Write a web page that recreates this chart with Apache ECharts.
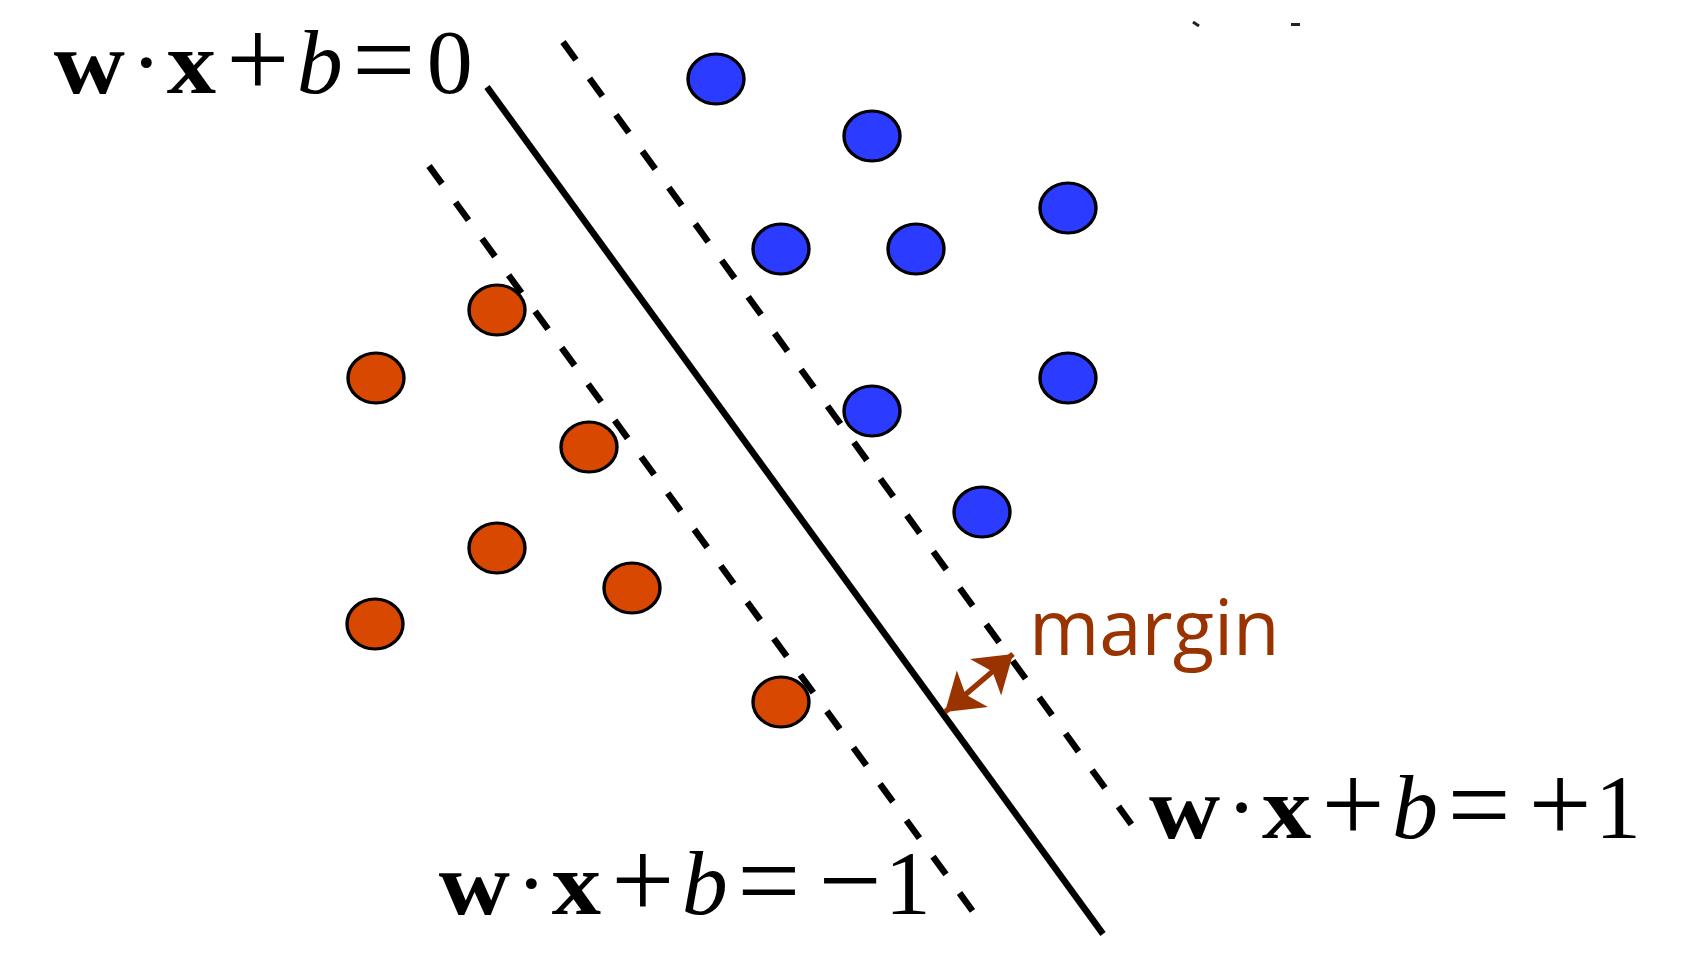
<!DOCTYPE html>
<html><head><meta charset="utf-8">
<script src="https://cdn.jsdelivr.net/npm/echarts@6/dist/echarts.min.js"></script>
<style>html,body{margin:0;padding:0;background:#fff}#c{width:1692px;height:968px}</style>
</head><body><div id="c"></div>
<script>
// ---- data (in picture units) ----
const positivePoints = [[716,79],[872,136],[1068,208],[781,249],[916,249],[1068,378],[872,411],[982,512]];
const negativePoints = [[497,310],[376,378],[589,447],[497,548],[632,588],[375,624],[781,702]];
const hyperplane  = [[487,87],[1103,934]];
const marginPlus  = [[563,42],[1137,832]];
const marginMinus = [[429,166],[977,917]];
const marginArrow = [[945,712],[1013,654]];
const topMarks = [[[1193,22],[1199,26]],[[1291,24],[1300,24]]];
const eqZero  = ['w','·','x','+','b','=','0'];
const eqMinus = ['w','·','x','+','b','=','−','1'];
const eqPlus  = ['w','·','x','+','b','=','+','1'];
const marginLabel = 'margin';

// ---- styles / layout ----
const SERIF = '"Liberation Serif", "Times New Roman", serif';
function glyphStyle(ch){
  if (ch==='w' || ch==='x') return {font:'bold 88px '+SERIF, size:88, sx:1.12, dy:0};
  if (ch==='b') return {font:'italic 92px '+SERIF, size:92, sx:1, dy:0};
  if (ch==='+' || ch==='=' || ch==='−') return {font:'112px '+SERIF, size:112, sx:1, dy:5};
  return {font:'92px '+SERIF, size:92, sx:1, dy:0};
}
const offsetsZero = [0,57,102,168.5,230.5,294.5,360.5];
const offsetsOne  = [0,57,102,168.5,230.5,294.5,375.5,433.5];
const BASE_FIX = 8;
function equation(glyphs, offsets, cx, baseline){
  return glyphs.map((ch,i)=>{
    const g = glyphStyle(ch);
    return {type:'text', x: cx+offsets[i], y: baseline - 0.3375*g.size + g.dy + BASE_FIX, scaleX: g.sx, silent:true,
      style:{text:ch, font:g.font, fill:'#000', align:'center', verticalAlign:'middle'}};
  });
}
const graphics = [].concat(
  equation(eqZero, offsetsZero, 89.3, 92),
  equation(eqMinus, offsetsOne, 474.3, 913),
  equation(eqPlus, offsetsOne, 1184.6, 837),
  [{type:'text', x:1029, y:655 - 0.388*76 + BASE_FIX, silent:true,
    style:{text:marginLabel, font:'76px "Open Sans", sans-serif', fill:'#993300', align:'left', verticalAlign:'middle'}}]
);

const chart = echarts.init(document.getElementById('c'), null, {renderer:'canvas'});
chart.setOption({
  animation:false,
  backgroundColor:'#fff',
  grid:{left:0,right:0,top:0,bottom:0},
  xAxis:{type:'value', min:0, max:1692, show:false},
  yAxis:{type:'value', min:0, max:968, inverse:true, show:false},
  graphic: graphics,
  series:[
    {type:'scatter', data:negativePoints, symbol:'circle', symbolSize:[56,50], z:2, silent:true,
      itemStyle:{color:'#d94800', borderColor:'#000', borderWidth:3.2, opacity:1}},
    {type:'scatter', data:positivePoints, symbol:'circle', symbolSize:[56,50], z:2, silent:true,
      itemStyle:{color:'#2b3bff', borderColor:'#000', borderWidth:3.2, opacity:1}},
    {type:'line', data:hyperplane, symbol:'none', z:3, silent:true,
      lineStyle:{color:'#000', width:6.5, cap:'butt'}},
    {type:'line', data:marginPlus, symbol:'none', z:3, silent:true,
      lineStyle:{color:'#000', width:6.5, type:[22,23], cap:'butt'}},
    {type:'line', data:marginMinus, symbol:'none', z:3, silent:true,
      lineStyle:{color:'#000', width:6.5, type:[22,23], cap:'butt'}},
    {type:'lines', coordinateSystem:'cartesian2d', z:4, silent:true,
      symbol:['arrow','arrow'], symbolSize:36,
      lineStyle:{color:'#993300', width:5.5, opacity:1, curveness:0},
      data:[{coords: marginArrow}]},
    {type:'lines', coordinateSystem:'cartesian2d', z:4, silent:true, symbol:'none',
      lineStyle:{color:'#222', width:3, opacity:1},
      data: topMarks.map(c=>({coords:c}))}
  ]
});
</script></body></html>
